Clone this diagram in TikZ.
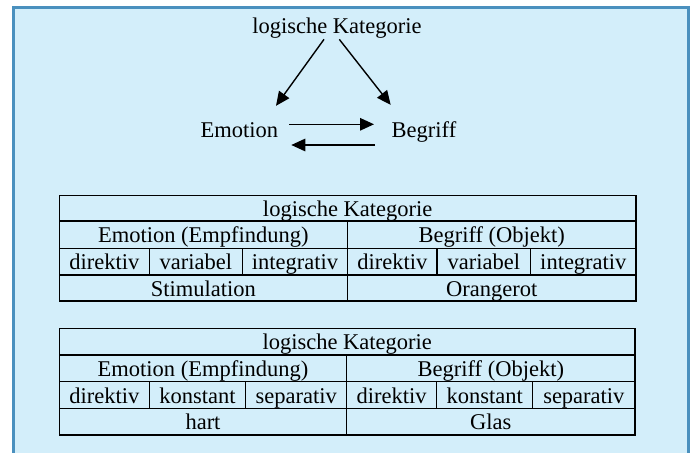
\documentclass[tikz,border=0pt]{standalone}
\usepackage{fontspec}
\setmainfont{Liberation Serif}
\usetikzlibrary{arrows.meta}
\definecolor{panelfill}{RGB}{211,238,250}
\definecolor{paneledge}{RGB}{74,144,190}
% one table cell: name, x1, y1, x2, y2, text
\newcommand\tcell[6]{%
  \pgfmathsetmacro\cellw{#4-#2}%
  \pgfmathsetmacro\cellh{#5-#3}%
  \node[cell, minimum width=\cellw pt, minimum height=\cellh pt] (#1) at (#2,#3) {#6};}
\begin{document}
\begin{tikzpicture}[x=1pt, y=-1pt,
  font=\fontsize{22.5}{26}\selectfont,
  lbl/.style={inner sep=0pt, outer sep=0pt},
  arr/.style={line width=1.4pt, -{Triangle[length=14pt,width=12.5pt]}},
  cell/.style={draw, line width=1.2pt, anchor=north west, inner sep=0pt,
    outer sep=0pt, text height=16pt, text depth=0pt}]
\useasboundingbox (0,0) rectangle (695,452);
\clip (0,0) rectangle (695,452);
% background panel, open at the bottom
\draw[line width=3pt, draw=paneledge, fill=panelfill] (13.8,7.2) rectangle (688,480);

% triangle of concepts
\node[lbl, anchor=base] (top) at (337,33.3) {logische Kategorie};
\node[lbl, anchor=base west] (emo) at (200.5,137.7) {Emotion};
\node[lbl, anchor=base west] (beg) at (391.7,137.7) {Begriff};
\draw[arr] ([xshift=-13pt,yshift=-1.2pt]top.south) -- ([xshift=-2pt,yshift=17pt]emo.north east);
\draw[arr] ([xshift=2.3pt,yshift=-1.2pt]top.south) -- ([xshift=-1pt,yshift=17pt]beg.north west);
\draw[arr] ([xshift=11pt,yshift=13.4pt]emo.base east) -- ([xshift=-17.7pt,yshift=13.4pt]beg.base west);
\draw[arr] ([xshift=-16.7pt,yshift=-7.3pt]beg.base west) -- ([xshift=13.3pt,yshift=-7.3pt]emo.base east);

% first table
\tcell{aK}{59.3}{195.7}{636}{221}{logische Kategorie}
\tcell{aE}{59.3}{221}{347.5}{248.3}{Emotion (Empfindung)}
\tcell{aB}{347.5}{221}{636}{248.3}{Begriff (Objekt)}
\tcell{aE1}{59.3}{248.3}{149.3}{275}{direktiv}
\tcell{aE2}{149.3}{248.3}{242.3}{275}{variabel}
\tcell{aE3}{242.3}{248.3}{347.5}{275}{integrativ}
\tcell{aB1}{347.5}{248.3}{437}{275}{direktiv}
\tcell{aB2}{437}{248.3}{530.7}{275}{variabel}
\tcell{aB3}{530.7}{248.3}{636}{275}{integrativ}
\tcell{aEx}{59.3}{275}{347.5}{301}{Stimulation}
\tcell{aBx}{347.5}{275}{636}{301}{Orangerot}

% second table
\tcell{bK}{59.3}{328.3}{635}{355}{logische Kategorie}
\tcell{bE}{59.3}{355}{346.7}{381.7}{Emotion (Empfindung)}
\tcell{bB}{346.7}{355}{635}{381.7}{Begriff (Objekt)}
\tcell{bE1}{59.3}{381.7}{149.3}{408.3}{direktiv}
\tcell{bE2}{149.3}{381.7}{245.7}{408.3}{konstant}
\tcell{bE3}{245.7}{381.7}{346.7}{408.3}{separativ}
\tcell{bB1}{346.7}{381.7}{436.7}{408.3}{direktiv}
\tcell{bB2}{436.7}{381.7}{532.7}{408.3}{konstant}
\tcell{bB3}{532.7}{381.7}{635}{408.3}{separativ}
\tcell{bEx}{59.3}{408.3}{346.7}{435}{hart}
\tcell{bBx}{346.7}{408.3}{635}{435}{Glas}
\end{tikzpicture}
\end{document}
